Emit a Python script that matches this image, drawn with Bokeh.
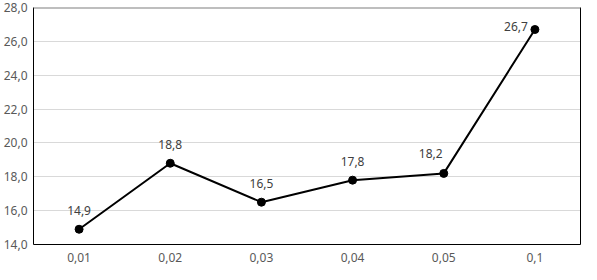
from bokeh.plotting import figure
from bokeh.models import ColumnDataSource, FactorRange, Range1d, LinearAxis, FixedTicker, CustomJSTickFormatter, Span
from bokeh.embed import file_html
from bokeh.resources import INLINE
from bokeh.core.properties import value

categories = ["0,01", "0,02", "0,03", "0,04", "0,05", "0,1"]
values = [14.9, 18.8, 16.5, 17.8, 18.2, 26.7]
labels = ["14,9", "18,8", "16,5", "17,8", "18,2", "26,7"]
y_ticks = [14, 16, 18, 20, 22, 24, 26, 28]

FONT = "Noto Sans"

p = figure(x_range=FactorRange(*categories), y_range=Range1d(14, 28),
           width=581, height=264, output_backend="svg", toolbar_location=None,
           min_border_left=32, min_border_right=1, min_border_top=7, min_border_bottom=10)
p.outline_line_color = None
p.background_fill_color = "white"

p.yaxis.ticker = FixedTicker(ticks=y_ticks)
p.yaxis.formatter = CustomJSTickFormatter(code="return tick.toFixed(1).replace('.', ',');")
p.yaxis.major_tick_line_color = None
p.yaxis.minor_tick_line_color = None
p.yaxis.major_tick_out = 0
p.yaxis.axis_line_color = "black"
p.yaxis.axis_line_width = 1
p.yaxis.major_label_standoff = 6
p.yaxis.major_label_text_font = FONT
p.yaxis.major_label_text_font_size = "12px"
p.yaxis.major_label_text_color = "#595959"

p.xaxis.major_tick_line_color = None
p.xaxis.major_tick_out = 0
p.xaxis.axis_line_color = "black"
p.xaxis.major_label_standoff = 8
p.xaxis.major_label_text_font = FONT
p.xaxis.major_label_text_font_size = "12px"
p.xaxis.major_label_text_color = "#595959"

right = LinearAxis(ticker=FixedTicker(ticks=[]), axis_line_color="black",
                   major_tick_line_color=None, minor_tick_line_color=None,
                   major_tick_out=0, major_label_text_font_size="0px")
p.add_layout(right, "right")

p.xgrid.grid_line_color = None
p.ygrid.ticker = FixedTicker(ticks=y_ticks[:-1])
p.ygrid.grid_line_color = "#d9d9d9"
p.ygrid.grid_line_width = 1
p.add_layout(Span(location=28, dimension="width", line_color="#7f7f7f", line_width=2))

src = ColumnDataSource(dict(x=categories, y=values, t=labels))
p.line("x", "y", source=src, line_color="black", line_width=2)
p.scatter("x", "y", source=src, size=8, fill_color="black", line_color="black")

txt = dict(text_font=value(FONT), text_font_size="12px", text_color="#404040",
           text_baseline="middle")
main = ColumnDataSource(dict(x=categories[:4], y=values[:4], t=labels[:4]))
p.text("x", "y", text="t", source=main, text_align="center", y_offset=-19, **txt)
fifth = ColumnDataSource(dict(x=categories[4:5], y=values[4:5], t=labels[4:5]))
p.text("x", "y", text="t", source=fifth, text_align="center", x_offset=-13, y_offset=-20, **txt)
last = ColumnDataSource(dict(x=categories[5:], y=values[5:], t=labels[5:]))
p.text("x", "y", text="t", source=last, text_align="right", x_offset=-7, y_offset=-3, **txt)

open("out.html", "w").write(file_html(p, INLINE))
